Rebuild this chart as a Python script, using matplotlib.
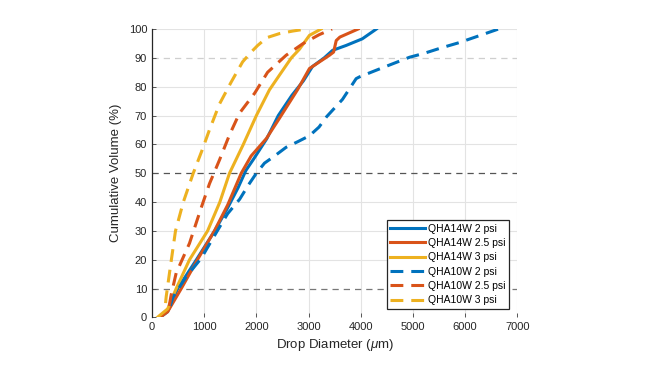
import numpy as np
import matplotlib
matplotlib.use('Agg')
import matplotlib.pyplot as plt

plt.rcParams['font.family'] = ['Liberation Sans', 'DejaVu Sans']
plt.rcParams['mathtext.fontset'] = 'custom'
plt.rcParams['mathtext.it'] = 'Liberation Sans:italic'

# Drop diameter (um) / cumulative volume (%)
x_14w_2 = [150, 300, 490, 850, 1200, 1450, 1650, 1800, 1950, 2200, 2420, 2680, 2900, 3075, 3300, 3460, 3720, 4030, 4300]
y_14w_2 = [0, 2, 10, 20, 30, 38, 45, 51, 55, 62, 70, 77, 82, 87, 90, 92.6, 94.3, 96.6, 100]

x_14w_25 = [150, 300, 560, 870, 1195, 1450, 1710, 1900, 2190, 2440, 2790, 3017, 3200, 3400, 3480, 3530, 3600, 3950]
y_14w_25 = [0, 2, 10, 20, 30, 39, 50, 56, 62, 69, 79, 86.3, 88.5, 90.9, 92, 96, 97.2, 100]

x_14w_3 = [100, 300, 463, 718, 1065, 1300, 1485, 1750, 2000, 2250, 2442, 2670, 2826, 3017, 3240]
y_14w_3 = [0, 3, 10, 20, 30, 40, 50, 60, 70, 78.9, 84, 90, 93, 97.8, 100]

x_10w_2 = [350, 400, 650, 942, 1250, 1450, 1680, 1850, 2000, 2155, 2350, 2570, 2800, 3017, 3200, 3346, 3650, 3912, 3975, 4295, 4620, 4933, 5220, 5550, 5890, 6370, 6640]
y_10w_2 = [4, 7, 14, 20.5, 30, 36, 41, 46, 50, 53.5, 56, 59, 61, 63, 66, 69.6, 75.6, 82.8, 83.4, 85.7, 88, 90.2, 91.6, 93.5, 95.3, 98.3, 100]

x_10w_25 = [330, 367, 463, 718, 942, 1102, 1293, 1485, 1676, 1965, 2215, 2570, 2890, 3200, 3450]
y_10w_25 = [4, 7.8, 15.4, 25.7, 38, 46.4, 54.6, 63.3, 70.8, 77.7, 85, 90.9, 94.9, 98, 100]

x_10w_3 = [260, 272, 335, 450, 600, 790, 960, 1100, 1293, 1517, 1736, 1900, 2025, 2200, 2440, 2700, 2950]
y_10w_3 = [5, 7.2, 15.4, 30, 40, 50, 58, 65, 74, 81.6, 88.6, 92, 94.3, 97, 98.4, 99.3, 100]

labels = ['QHA14W 2 psi', 'QHA14W 2.5 psi', 'QHA14W 3 psi',
          'QHA10W 2 psi', 'QHA10W 2.5 psi', 'QHA10W 3 psi']
colors = ['#0072BD', '#D95319', '#EDB120']

fig = plt.figure(figsize=(6.6, 3.7), dpi=100)
ax = fig.add_axes([0.2303, 0.1419, 0.5535, 0.7797])

# grid
for v in range(0, 7001, 1000):
    ax.axvline(v, color='#e3e3e3', lw=0.8, zorder=0)
for v in [20, 30, 40, 60, 70, 80, 100]:
    ax.axhline(v, color='#e3e3e3', lw=0.8, zorder=0)
ax.axhline(90, color='#cfcfcf', lw=0.9, ls=(0, (5, 4)), zorder=0)
ax.axhline(50, color='#555555', lw=0.9, ls=(0, (5, 4)), zorder=0)
ax.axhline(10, color='#777777', lw=0.9, ls=(0, (5, 4)), zorder=0)

lw = 2.2
dash = (0, (4.2, 2.6))
ax.plot(x_14w_2, y_14w_2, color=colors[0], lw=lw, label=labels[0])
ax.plot(x_14w_25, y_14w_25, color=colors[1], lw=lw, label=labels[1])
ax.plot(x_14w_3, y_14w_3, color=colors[2], lw=lw, label=labels[2])
ax.plot(x_10w_2, y_10w_2, color=colors[0], lw=lw, ls=dash, label=labels[3])
ax.plot(x_10w_25, y_10w_25, color=colors[1], lw=lw, ls=dash, label=labels[4])
ax.plot(x_10w_3, y_10w_3, color=colors[2], lw=lw, ls=dash, label=labels[5])

ax.set_xlim(0, 7000)
ax.set_ylim(0, 100)
ax.set_xticks(range(0, 7001, 1000))
ax.set_yticks(range(0, 101, 10))
for s in ['top', 'right', 'bottom']:
    ax.spines[s].set_visible(False)
ax.spines['left'].set_color('#262626')
ax.spines['left'].set_linewidth(0.9)
ax.tick_params(direction='in', length=3, width=0.7, colors='#555555',
               labelcolor='#262626', labelsize=8)
ax.set_xlabel(r'Drop Diameter ($\mu$m)', fontsize=9.5, color='#262626', labelpad=3)
ax.set_ylabel('Cumulative Volume (%)', fontsize=9.5, color='#262626', labelpad=5)

leg = ax.legend(loc='lower right', bbox_to_anchor=(0.977, 0.029), fontsize=7.5,
                frameon=True, fancybox=False, handlelength=3.3, labelspacing=0.42,
                handletextpad=0.3, borderpad=0.35, borderaxespad=0)
leg.get_frame().set_edgecolor('#262626')
leg.get_frame().set_linewidth(0.9)
leg.get_frame().set_alpha(1)

fig.savefig('out.png', dpi=100)
